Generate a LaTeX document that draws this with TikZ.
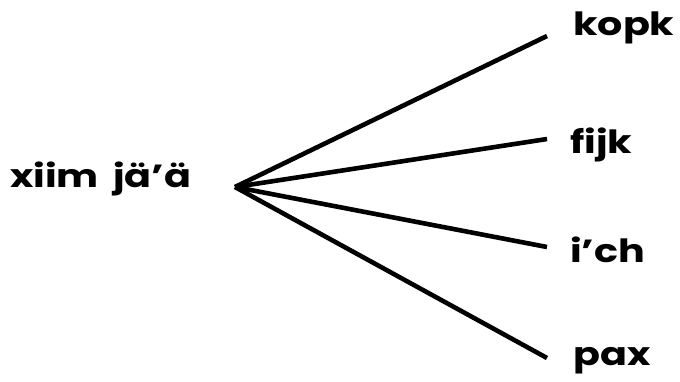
\documentclass[tikz,border=0pt]{standalone}
\usepackage{fontspec}
\setmainfont{Poppins}[FakeStretch=1.24, WordSpace=1.7]
\tikzset{
  word/.style={font=\fontsize{32}{38}\selectfont\bfseries, inner sep=0pt, anchor=base west},
  branch/.style={line width=4.6pt, line cap=butt}
}
\begin{document}
\begin{tikzpicture}[x=1pt, y=-1pt, line join=round]

  \useasboundingbox (0,0) rectangle (680,381);

  \coordinate (fork) at (235,187);
  \coordinate (e1) at (547,36);
  \coordinate (e2) at (547,139);
  \coordinate (e3) at (547,247);
  \coordinate (e4) at (547,358);

  \node[word] (root) at (10,187) {xiim jä’ä};
  \node[word] (kopk) at (573,35) {kopk};
  \node[word] (fijk) at (570,153) {fijk};
  \node[word] (ich) at (570,262) {i’ch};
  \node[word] (pax) at (573,365) {pax};

  \draw[branch] (fork) -- (e1);
  \draw[branch] (fork) -- (e2);
  \draw[branch] (fork) -- (e3);
  \draw[branch] (fork) -- (e4);

\end{tikzpicture}
\end{document}
